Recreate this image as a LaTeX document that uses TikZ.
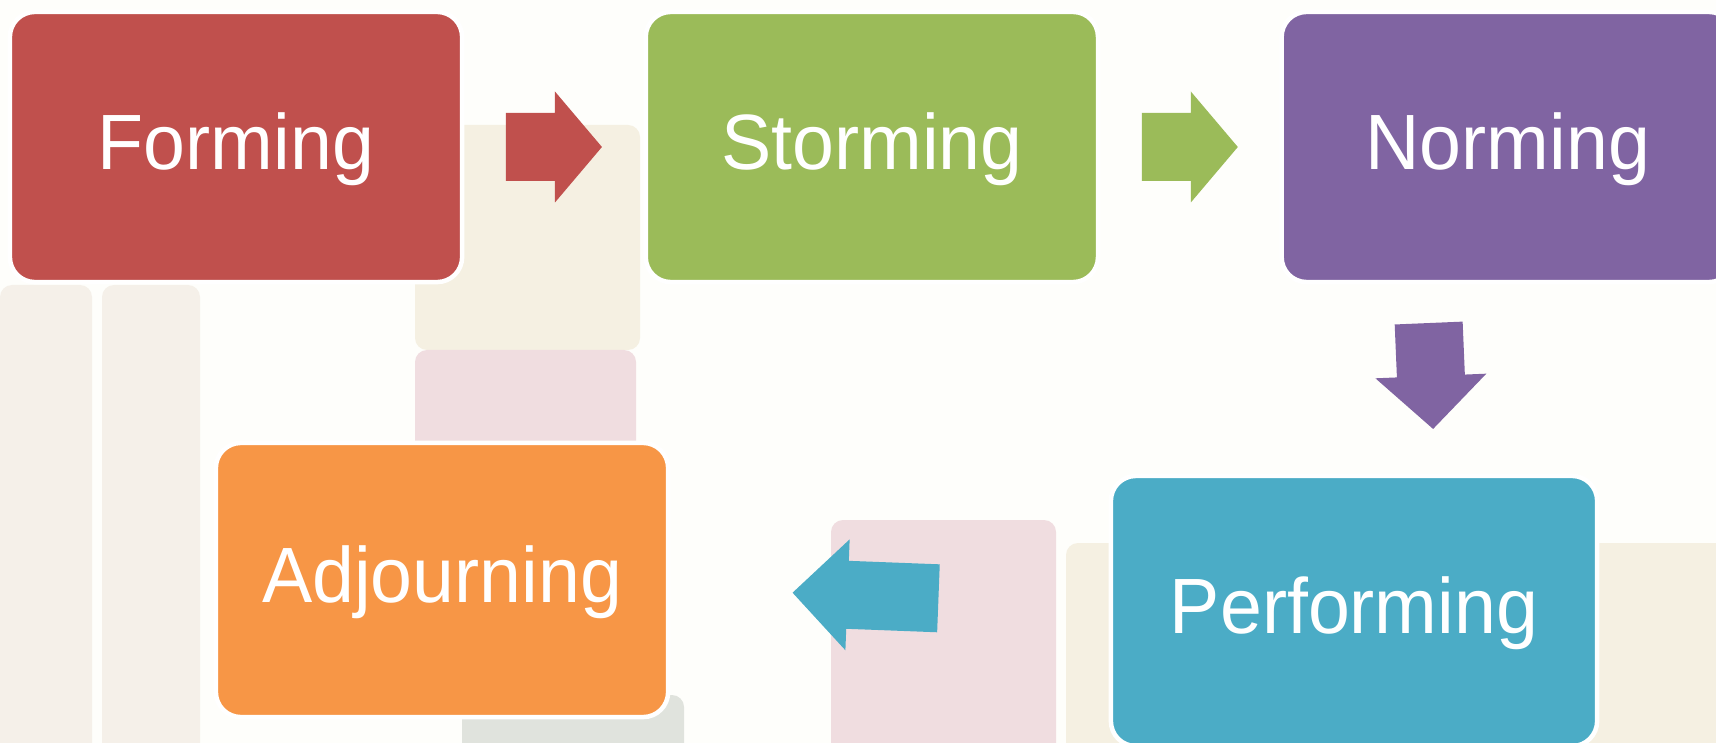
\documentclass[tikz,border=0pt]{standalone}
\usepackage{fontspec}
\setmainfont{Liberation Sans}[FakeStretch=0.96]
\usetikzlibrary{positioning,calc}

\definecolor{formred}{HTML}{C0504D}
\definecolor{stormgreen}{HTML}{9BBB59}
\definecolor{normpurple}{HTML}{8064A2}
\definecolor{perfblue}{HTML}{4BACC6}
\definecolor{adjorange}{HTML}{F79646}
\definecolor{paper}{HTML}{FEFEFB}
\definecolor{woodtint}{HTML}{F5F0E9}
\definecolor{creamblock}{HTML}{F5F0E2}
\definecolor{pinkblock}{HTML}{F0DDE0}
\definecolor{greyblock}{HTML}{E0E3DD}

% block arrow: colour, centre, angle, length, head length
\newcommand{\stagearrow}[5]{%
  \fill[#1, shift={#2}, rotate=#3]
    (-#4/2,-34) -- ({#4/2-#5},-34) -- ({#4/2-#5},-55.5) -- (#4/2,0)
    -- ({#4/2-#5},55.5) -- ({#4/2-#5},34) -- (-#4/2,34) -- cycle;}

\begin{document}
\begin{tikzpicture}[
  x=0.01cm, y=-0.01cm,
  node distance=1.79cm,
  stage/.style={draw=white, line width=0.045cm, rounded corners=0.25cm,
    minimum width=4.52cm, minimum height=2.70cm, inner sep=0pt,
    text height=16pt, text depth=3.3pt,
    text=white, font=\fontsize{22.3}{26}\selectfont},
  faint/.style={rounded corners=0.12cm}
]
\useasboundingbox (0,0) rectangle (1716,743);
\clip (0,0) rectangle (1716,743);

% washed-out backdrop
\fill[paper] (0,0) rectangle (1716,743);
\fill[woodtint, faint] (0,285) rectangle (92,760);
\fill[woodtint, faint] (102,285) rectangle (200,760);
\fill[creamblock, faint] (415,125) rectangle (640,350);
\fill[pinkblock, faint] (415,350) rectangle (636,700);
\fill[greyblock, faint] (462,695) rectangle (684,760);
\fill[pinkblock, faint] (831,520) rectangle (1056,760);
\fill[creamblock, faint] (1066,543) rectangle (1730,760);

% stages
\node[stage, fill=formred] (forming) at (236,147) {Forming};
\node[stage, fill=stormgreen, right=of forming] (storming) {Storming};
\node[stage, fill=normpurple, right=of storming] (norming) {Norming};
\node[stage, fill=perfblue, minimum width=4.86cm] (performing) at (1354,611) {Performing};
\node[stage, fill=adjorange, minimum height=2.74cm] (adjourning) at (442,580) {Adjourning};

% arrows between stages
\stagearrow{formred}{($(forming.east)!0.5!(storming.west)$)}{0}{96}{47}
\stagearrow{stormgreen}{($(storming.east)!0.5!(norming.west)$)}{0}{96}{47}
\stagearrow{normpurple}{($(norming.south)!0.5!(performing.north)+(0,-3)$)}{-87.6}{106}{53}
\stagearrow{perfblue}{($(performing.west)!0.5!(adjourning.east)+(-24,0)$)}{177.8}{146}{55}
\end{tikzpicture}
\end{document}
